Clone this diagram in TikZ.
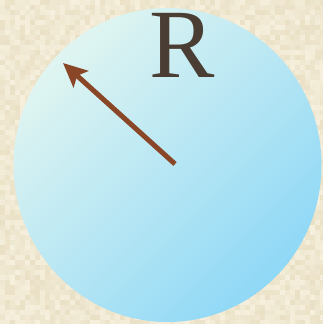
\documentclass[tikz,border=0pt]{standalone}
\usepackage{fontspec}
\setmainfont{Liberation Serif}
\usetikzlibrary{arrows.meta}
\definecolor{bgA}{HTML}{E8DEC2}
\definecolor{bgB}{HTML}{F6F0DE}
\definecolor{discLight}{HTML}{E0F5F1}
\definecolor{discDark}{HTML}{8FD8F6}
\definecolor{arrowBrown}{HTML}{8A4727}
\definecolor{letterGray}{HTML}{4A3D33}
\tikzset{
  disc/.style={top color=discLight, bottom color=discDark, shading angle=45},
  radiusarrow/.style={draw=arrowBrown, line width=5pt, -{Stealth[length=24pt,width=22pt,inset=5pt]}},
  bigletter/.style={text=letterGray, font=\fontsize{98}{98}\selectfont, inner sep=0pt, anchor=base}
}
\begin{document}
\begin{tikzpicture}[x=1pt,y=-1pt]
\useasboundingbox (0,0) rectangle (323,324);
\fill[bgB!50!bgA] (0,0) rectangle (323,324);
\pgfmathsetseed{7}
\foreach \i in {0,...,64}{
  \foreach \j in {0,...,64}{
    \pgfmathrandominteger{\r}{10}{95}
    \fill[bgB!\r!bgA] (5*\i,5*\j) rectangle ++(5,5);
  }
}
\shade[disc] (167.5,165) ellipse [x radius=154, y radius=157];
\coordinate (center) at (175,164);
\coordinate (rim) at (63,63);
\draw[radiusarrow] (center) -- (rim);
\node[bigletter] (R) at (182,77) {R};
\end{tikzpicture}
\end{document}
